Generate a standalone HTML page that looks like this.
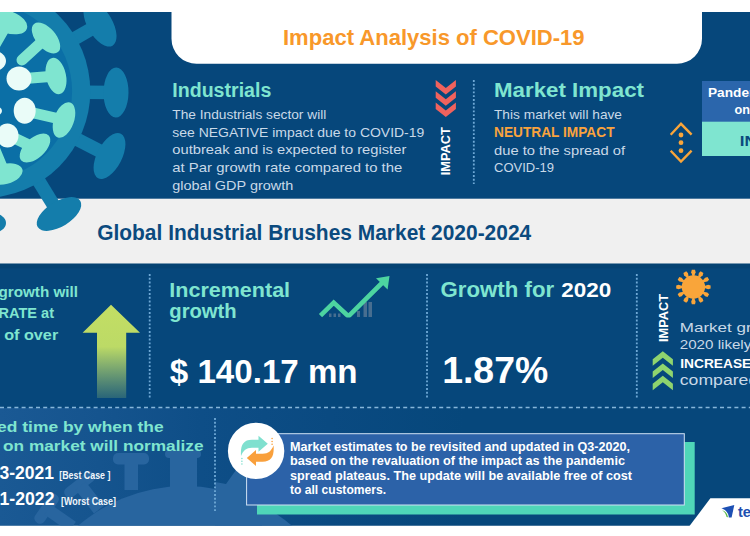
<!DOCTYPE html>
<html lang="en"><head><meta charset="utf-8"><title>Impact Analysis of COVID-19</title>
<style>
html,body{margin:0;padding:0;background:#fff;}
body{width:750px;height:536px;overflow:hidden;font-family:"Liberation Sans", sans-serif;}
svg{display:block}
svg text{font-family:"Liberation Sans", sans-serif;}
</style></head><body>
<svg width="750" height="536" viewBox="0 0 750 536">
<defs>
<linearGradient id="arr" x1="0" y1="0" x2="0" y2="1">
<stop offset="0" stop-color="#c3de64"/><stop offset="0.45" stop-color="#bcda66"/><stop offset="1" stop-color="#a8d070" stop-opacity="0.22"/>
</linearGradient>
<linearGradient id="botg" x1="0" y1="0" x2="750" y2="0" gradientUnits="userSpaceOnUse">
<stop offset="0" stop-color="#1a5994"/><stop offset="0.133" stop-color="#15548e"/><stop offset="0.267" stop-color="#0e4e87"/><stop offset="0.44" stop-color="#0a4a81"/><stop offset="0.62" stop-color="#06477b"/>
</linearGradient>
<clipPath id="topclip"><rect x="0" y="12" width="750" height="251.7"/></clipPath>
<clipPath id="botclip"><rect x="0" y="408" width="750" height="117.5"/></clipPath>
</defs>
<rect width="750" height="536" fill="#fff"/>
<rect x="0" y="12" width="750" height="513.5" fill="#06477b"/>

<rect x="0" y="198.7" width="750" height="65" fill="#f0f0f0"/>
<g clip-path="url(#topclip)">
<line x1="70.2" y1="41.2" x2="100" y2="24" stroke="#147dab" stroke-width="13.5"/>
<ellipse cx="100" cy="24" rx="12.5" ry="25.0" fill="#147dab" transform="rotate(-30.0 100 24)"/>
<line x1="83.6" y1="92.2" x2="116" y2="92.5" stroke="#147dab" stroke-width="13.5"/>
<ellipse cx="116" cy="92.5" rx="12.5" ry="25.0" fill="#147dab" transform="rotate(0.6 116 92.5)"/>
<line x1="72.5" y1="137.0" x2="109.5" y2="156" stroke="#147dab" stroke-width="13.5"/>
<ellipse cx="109.5" cy="156" rx="12.5" ry="25.0" fill="#147dab" transform="rotate(27.2 109.5 156)"/>
<line x1="35.9" y1="176.4" x2="59" y2="214" stroke="#147dab" stroke-width="13.5"/>
<ellipse cx="59" cy="214" rx="12.5" ry="25.0" fill="#147dab" transform="rotate(58.4 59 214)"/>
<ellipse cx="-8" cy="223" rx="14" ry="10" fill="#147dab"/>
<circle cx="-16.4" cy="91.2" r="106.7" fill="#147dab"/>
<circle cx="-16.4" cy="91.2" r="88.5" fill="#0b6fa6"/>
<line x1="22" y1="60" x2="46" y2="38" stroke="#7fe5d0" stroke-width="11" stroke-linecap="round"/>
<ellipse cx="46" cy="38" rx="10.0" ry="18.5" fill="#7fe5d0" transform="rotate(-40.4 46 38)"/>
<line x1="19" y1="79" x2="56" y2="76" stroke="#7fe5d0" stroke-width="11" stroke-linecap="round"/>
<ellipse cx="56" cy="76" rx="10.0" ry="18.5" fill="#7fe5d0" transform="rotate(-11.9 56 76)"/>
<line x1="25" y1="111" x2="64" y2="120" stroke="#7fe5d0" stroke-width="11" stroke-linecap="round"/>
<ellipse cx="64" cy="120" rx="10.0" ry="18.5" fill="#7fe5d0" transform="rotate(19.7 64 120)"/>
<line x1="8" y1="135" x2="35" y2="148" stroke="#7fe5d0" stroke-width="11" stroke-linecap="round"/>
<ellipse cx="35" cy="148" rx="10.0" ry="18.5" fill="#7fe5d0" transform="rotate(47.9 35 148)"/>
<line x1="-8" y1="50" x2="8" y2="22" stroke="#7fe5d0" stroke-width="11" stroke-linecap="round"/>
<ellipse cx="8" cy="22" rx="11.0" ry="20.0" fill="#7fe5d0" transform="rotate(-70.6 8 22)"/>
<line x1="-5" y1="150" x2="5" y2="174" stroke="#7fe5d0" stroke-width="11" stroke-linecap="round"/>
<ellipse cx="5" cy="174" rx="10.0" ry="18.0" fill="#7fe5d0" transform="rotate(75.5 5 174)"/>
<ellipse cx="19" cy="78.5" rx="12.5" ry="12" fill="#eafcf8"/>
<ellipse cx="24.7" cy="110.8" rx="11" ry="13" fill="#eafcf8"/>
<ellipse cx="7.5" cy="135.5" rx="11" ry="12" fill="#eafcf8"/>
<ellipse cx="-6" cy="61" rx="12" ry="10" fill="#eafcf8"/>
<ellipse cx="-9" cy="111" rx="11" ry="6" fill="#eafcf8"/>
</g>
<path d="M171.5 12 H702 V38.7 A25 25 0 0 1 677 63.7 H196.5 A25 25 0 0 1 171.5 38.7 Z" fill="#fff"/>
<text x="283" y="45" font-size="22" fill="#f8982a" font-weight="bold" textLength="301.5" lengthAdjust="spacingAndGlyphs">Impact Analysis of COVID-19</text>
<text x="172.3" y="97" font-size="20" fill="#7fe5d0" font-weight="bold" textLength="99" lengthAdjust="spacingAndGlyphs">Industrials</text>
<text x="172.3" y="119" font-size="13.4" fill="#c9d9e8" textLength="154" lengthAdjust="spacingAndGlyphs">The Industrials sector will</text>
<text x="172.3" y="136.7" font-size="13.4" fill="#c9d9e8" textLength="252" lengthAdjust="spacingAndGlyphs">see NEGATIVE impact due to COVID-19</text>
<text x="172.3" y="154.4" font-size="13.4" fill="#c9d9e8" textLength="234" lengthAdjust="spacingAndGlyphs">outbreak and is expected to register</text>
<text x="172.3" y="172.1" font-size="13.4" fill="#c9d9e8" textLength="230" lengthAdjust="spacingAndGlyphs">at Par growth rate compared to the</text>
<text x="172.3" y="189.8" font-size="13.4" fill="#c9d9e8" textLength="121" lengthAdjust="spacingAndGlyphs">global GDP growth</text>
<polygon points="435.7,80 445.8,88 455.9,80 455.9,86.5 445.8,94.5 435.7,86.5" fill="#f0625d"/>
<polygon points="435.7,91.2 445.8,99.2 455.9,91.2 455.9,97.7 445.8,105.7 435.7,97.7" fill="#f0625d"/>
<polygon points="435.7,102.4 445.8,110.4 455.9,102.4 455.9,108.9 445.8,116.9 435.7,108.9" fill="#f0625d"/>
<text transform="translate(450.3 175.3) rotate(-90)" font-size="13.5" font-weight="bold" fill="#fff" textLength="48" lengthAdjust="spacingAndGlyphs">IMPACT</text>
<line x1="473.8" y1="80" x2="473.8" y2="184" stroke="#6fa9d6" stroke-width="1.8" stroke-dasharray="1.9 1.9"/>
<text x="494" y="96.7" font-size="20.6" fill="#7fe5d0" font-weight="bold" textLength="150" lengthAdjust="spacingAndGlyphs">Market Impact</text>
<text x="494" y="118.6" font-size="13.4" fill="#c9d9e8" textLength="128" lengthAdjust="spacingAndGlyphs">This market will have</text>
<text x="494" y="136.6" font-size="14.8" fill="#f9a33d" font-weight="bold" textLength="120.5" lengthAdjust="spacingAndGlyphs">NEUTRAL IMPACT</text>
<text x="494" y="154.5" font-size="13.4" fill="#c9d9e8" textLength="131" lengthAdjust="spacingAndGlyphs">due to the spread of</text>
<text x="494" y="172.1" font-size="13.4" fill="#c9d9e8" textLength="60" lengthAdjust="spacingAndGlyphs">COVID-19</text>
<g fill="none" stroke="#f9a53a" stroke-width="2.4"><path d="M670.7 134.7 L681 123.8 L691.6 134.7"/><path d="M670.7 150.7 L681 161.6 L691.6 150.7"/></g>
<circle cx="681" cy="135" r="2.4" fill="#f9a53a"/>
<circle cx="681" cy="142.7" r="2.4" fill="#f9a53a"/>
<circle cx="681" cy="150.7" r="2.4" fill="#f9a53a"/>
<rect x="702" y="81" width="48" height="41" fill="#2b66ac"/>
<rect x="702" y="121.7" width="48" height="34.3" fill="#7fe5d0"/>
<text x="708" y="96.5" font-size="12.5" fill="#fff" font-weight="bold" textLength="112.37" lengthAdjust="spacingAndGlyphs">Pandemic Impact</text>
<text x="734.5" y="113.7" font-size="12.5" fill="#fff" font-weight="bold" textLength="59.92" lengthAdjust="spacingAndGlyphs">on Market</text>
<text x="739.8" y="145.8" font-size="15.5" fill="#0b4a7d" font-weight="bold" textLength="55.72" lengthAdjust="spacingAndGlyphs">INLINE</text>
<text x="97.2" y="240.2" font-size="22.4" fill="#0b4a7e" font-weight="bold" textLength="434" lengthAdjust="spacingAndGlyphs">Global Industrial Brushes Market 2020-2024</text>
<rect x="0" y="408" width="750" height="117.5" fill="url(#botg)"/>
<g clip-path="url(#botclip)" fill="#28659f">
<circle cx="185" cy="650" r="164"/>
<rect x="113" y="453" width="36" height="11.5" rx="5"/><rect x="124.5" y="460" width="13.5" height="30"/>
<rect x="165" y="450" width="36" height="8" rx="4"/><rect x="170" y="455" width="27" height="36"/>
<g transform="rotate(-38 80 485)"><rect x="62" y="479" width="36" height="11" rx="5"/><rect x="73.5" y="486" width="13" height="30"/></g>
<g transform="rotate(-55 47 509)"><rect x="30" y="503" width="34" height="11" rx="5"/><rect x="41" y="510" width="12" height="30"/></g>
<path d="M215 482 L226 484 L236 470 L262 470 L262 526 L215 526 Z"/>
</g>
<rect x="0" y="263.7" width="750" height="4.5" fill="#054373"/>
<line x1="149.7" y1="274" x2="149.7" y2="398" stroke="#6fa9d6" stroke-width="1.8" stroke-dasharray="1.9 1.9"/>
<line x1="427" y1="274" x2="427" y2="398" stroke="#6fa9d6" stroke-width="1.8" stroke-dasharray="1.9 1.9"/>
<line x1="636.8" y1="274" x2="636.8" y2="398" stroke="#6fa9d6" stroke-width="1.8" stroke-dasharray="1.9 1.9"/>
<line x1="0" y1="407.5" x2="750" y2="407.5" stroke="#86b6da" stroke-width="1.4" stroke-dasharray="4 3.2"/>
<text x="-54.81" y="297.4" font-size="14.6" fill="#7fe5d0" font-weight="bold" textLength="132.81" lengthAdjust="spacingAndGlyphs">Market growth will</text>
<text x="-61.31" y="318" font-size="14.2" fill="#7fe5d0" font-weight="bold" textLength="115.31" lengthAdjust="spacingAndGlyphs">ACCELERATE at</text>
<text x="4.2" y="339.7" font-size="14.6" fill="#7fe5d0" font-weight="bold" textLength="54" lengthAdjust="spacingAndGlyphs">of over</text>
<text x="-3" y="339.7" font-size="14.6" fill="#7fe5d0" font-weight="bold" text-anchor="end">a CAGR</text>
<path d="M111 304.8 L140 332.7 H126.2 V398 H97 V332.7 H82.6 Z" fill="url(#arr)"/>
<text x="169.3" y="297.1" font-size="20" fill="#7fe5d0" font-weight="bold" textLength="120.8" lengthAdjust="spacingAndGlyphs">Incremental</text>
<text x="169.3" y="318" font-size="20" fill="#7fe5d0" font-weight="bold" textLength="67.4" lengthAdjust="spacingAndGlyphs">growth</text>
<text x="169.8" y="382.8" font-size="33.6" fill="#fff" font-weight="bold" textLength="187.8" lengthAdjust="spacingAndGlyphs">$ 140.17 mn</text>
<g fill="#5d7c97" opacity="0.75"><rect x="329" y="313.5" width="2.5" height="3.5"/><rect x="333.5" y="313.5" width="2.5" height="3.5"/><rect x="338" y="313.5" width="2.5" height="3.5"/><rect x="357" y="311" width="3" height="6"/><rect x="363.5" y="302" width="3.5" height="15"/><rect x="368.5" y="302" width="3.5" height="15"/></g>
<clipPath id="tr"><rect x="310" y="270" width="90" height="47.6"/></clipPath>
<path d="M320.5 315.6 L333.7 302.6 L348.4 316.3 L384 281" fill="none" stroke="#4dd4a0" stroke-width="4.6" clip-path="url(#tr)"/>
<path d="M376 278.3 L389.5 276 L387.6 289.6 Z" fill="#4dd4a0"/>
<text x="440.6" y="297.4" font-size="22" fill="#7fe5d0" font-weight="bold" textLength="113.5" lengthAdjust="spacingAndGlyphs">Growth for</text>
<text x="561.3" y="297.4" font-size="20.5" fill="#fff" font-weight="bold" textLength="50" lengthAdjust="spacingAndGlyphs">2020</text>
<text x="442.2" y="383" font-size="37.5" fill="#fff" font-weight="bold" textLength="106" lengthAdjust="spacingAndGlyphs">1.87%</text>
<text transform="translate(667.8 342) rotate(-90)" font-size="13.5" font-weight="bold" fill="#fff" textLength="48" lengthAdjust="spacingAndGlyphs">IMPACT</text>
<circle cx="693.4" cy="287" r="11.7" fill="#f9a53a"/>
<polygon points="692.5,276 691.2,272.2 691.8,269.8 695,269.8 695.6,272.2 694.3,276" fill="#f9a53a"/>
<polygon points="698.12,277.02 698.89,273.08 700.61,271.3 703.39,272.9 702.71,275.28 699.68,277.92" fill="#f9a53a"/>
<polygon points="702.48,280.72 705.12,277.69 707.5,277.01 709.1,279.79 707.32,281.51 703.38,282.28" fill="#f9a53a"/>
<polygon points="704.4,286.1 708.2,284.8 710.6,285.4 710.6,288.6 708.2,289.2 704.4,287.9" fill="#f9a53a"/>
<polygon points="703.38,291.72 707.32,292.49 709.1,294.21 707.5,296.99 705.12,296.31 702.48,293.28" fill="#f9a53a"/>
<polygon points="699.68,296.08 702.71,298.72 703.39,301.1 700.61,302.7 698.89,300.92 698.12,296.98" fill="#f9a53a"/>
<polygon points="694.3,298 695.6,301.8 695,304.2 691.8,304.2 691.2,301.8 692.5,298" fill="#f9a53a"/>
<polygon points="688.68,296.98 687.91,300.92 686.19,302.7 683.41,301.1 684.09,298.72 687.12,296.08" fill="#f9a53a"/>
<polygon points="684.32,293.28 681.68,296.31 679.3,296.99 677.7,294.21 679.48,292.49 683.42,291.72" fill="#f9a53a"/>
<polygon points="682.4,287.9 678.6,289.2 676.2,288.6 676.2,285.4 678.6,284.8 682.4,286.1" fill="#f9a53a"/>
<polygon points="683.42,282.28 679.48,281.51 677.7,279.79 679.3,277.01 681.68,277.69 684.32,280.72" fill="#f9a53a"/>
<polygon points="687.12,277.92 684.09,275.28 683.41,272.9 686.19,271.3 687.91,273.08 688.68,277.02" fill="#f9a53a"/>
<polygon points="652.7,359.2 662.8,351.2 672.9,359.2 672.9,365.7 662.8,357.7 652.7,365.7" fill="#8fd46e"/>
<polygon points="652.7,371.5 662.8,363.5 672.9,371.5 672.9,378 662.8,370 652.7,378" fill="#8fd46e"/>
<polygon points="652.7,383.8 662.8,375.8 672.9,383.8 672.9,390.3 662.8,382.3 652.7,390.3" fill="#8fd46e"/>
<text x="679.8" y="332.3" font-size="13.6" fill="#c9d9e8" textLength="125.67" lengthAdjust="spacingAndGlyphs">Market growth in</text>
<text x="679.8" y="349.2" font-size="13.6" fill="#c9d9e8" textLength="88.32" lengthAdjust="spacingAndGlyphs">2020 likely to</text>
<text x="680.3" y="368" font-size="13.6" fill="#fff" font-weight="bold" textLength="70.96" lengthAdjust="spacingAndGlyphs">INCREASE</text>
<text x="679.8" y="385" font-size="13.8" fill="#c9d9e8" textLength="98.01" lengthAdjust="spacingAndGlyphs">compared to</text>
<line x1="215" y1="418" x2="215" y2="513" stroke="#6fa9d6" stroke-width="1.8" stroke-dasharray="1.9 1.9"/>
<text x="-65.83" y="431.5" font-size="15.5" fill="#7fe5d0" font-weight="bold" textLength="229.43" lengthAdjust="spacingAndGlyphs">Estimated time by when the</text>
<text x="3" y="451.2" font-size="15.5" fill="#7fe5d0" font-weight="bold" textLength="200.5" lengthAdjust="spacingAndGlyphs">on market will normalize</text>
<text x="-3" y="451.2" font-size="15.5" fill="#7fe5d0" font-weight="bold" text-anchor="end">impact</text>
<text x="-14.21" y="479.4" font-size="18.8" fill="#fff" font-weight="bold" textLength="68.11" lengthAdjust="spacingAndGlyphs">Q3-2021</text>
<text x="59.3" y="478.8" font-size="10" fill="#f1f6fb" font-weight="bold" textLength="51.1" lengthAdjust="spacingAndGlyphs">[Best Case ]</text>
<text x="-14.24" y="505.2" font-size="18.8" fill="#fff" font-weight="bold" textLength="68.74" lengthAdjust="spacingAndGlyphs">Q1-2022</text>
<text x="61" y="504.6" font-size="10" fill="#f1f6fb" font-weight="bold" textLength="55" lengthAdjust="spacingAndGlyphs">[Worst Case]</text>
<rect x="257" y="442" width="437.7" height="72.5" fill="#4fd6b8"/>
<rect x="246.6" y="433.7" width="437.7" height="71.3" fill="#2c62a8" stroke="#cfe2f3" stroke-width="1"/>
<circle cx="256.1" cy="450.9" r="28.2" fill="#fff"/>
<path d="M241 456 C240.3 445.5 243 439.8 252 439.8 H258.5 V435.8 L267.8 443.8 L258.5 451.8 V447.8 H252 C246 447.8 243.5 450.5 241 456 Z" fill="#7fe0cf"/>
<path d="M273.6 445.6 C274.3 456.1 271.6 461.8 262.6 461.8 H256 V465.9 L246.8 457.9 L256 449.9 V453.8 H262.6 C268.6 453.8 271.1 451.1 273.6 445.6 Z" fill="#f9a03c"/>
<g fill="#f9a03c"><circle cx="272.1" cy="438.5" r="0.8"/><circle cx="272.1" cy="441.5" r="0.8"/><circle cx="272.1" cy="444.3" r="0.8"/></g>
<g fill="#7fe0cf"><circle cx="241.9" cy="458.5" r="0.8"/><circle cx="241.9" cy="461.3" r="0.8"/><circle cx="241.9" cy="464" r="0.8"/></g>
<text x="290" y="451" font-size="12.3" fill="#fff" font-weight="bold" textLength="340" lengthAdjust="spacingAndGlyphs">Market estimates to be revisited and updated in Q3-2020,</text>
<text x="290" y="465.3" font-size="12.3" fill="#fff" font-weight="bold" textLength="335" lengthAdjust="spacingAndGlyphs">based on the revaluation of the impact as the pandemic</text>
<text x="290" y="479.6" font-size="12.3" fill="#fff" font-weight="bold" textLength="342" lengthAdjust="spacingAndGlyphs">spread plateaus. The update will be available free of cost</text>
<text x="290" y="493.9" font-size="12.3" fill="#fff" font-weight="bold" textLength="96" lengthAdjust="spacingAndGlyphs">to all customers.</text>
<path d="M710.4 498.3 H750 V526 H689.5 Z" fill="#fff"/>
<path d="M721.4 508.2 L734.3 505 L731.6 517.6 L728.8 517.6 C728.8 513 726 510 721.4 508.2 Z" fill="#1d50b4"/><path d="M722 510.3 C725 511 727.5 513.5 728 517.2 L726.6 517 C726 514 724.5 512 722 510.3 Z" fill="#58b947"/>
<text x="738" y="516.9" font-size="14.5" fill="#1d4fb0" font-weight="bold" textLength="68.25" lengthAdjust="spacingAndGlyphs">technavio</text>
</svg></body></html>
